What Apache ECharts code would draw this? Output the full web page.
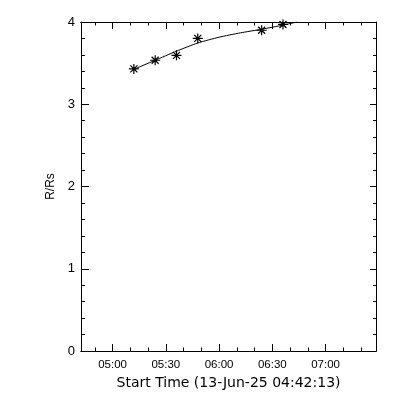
<!DOCTYPE html>
<html>
<head>
<meta charset="utf-8">
<script src="https://cdn.jsdelivr.net/npm/echarts@6/dist/echarts.min.js"></script>
<style>html,body{margin:0;padding:0;background:#fff;}#c{width:400px;height:400px;}</style>
</head>
<body>
<div id="c"></div>
<script>
// Measured points (time, R/Rs)
var pointTimes = ["05:12", "05:24", "05:36", "05:48", "06:24", "06:36"];
var pointValues = [3.43, 3.535, 3.595, 3.80, 3.90, 3.97];
// Fitted curve
var fitTimes = ["05:12", "05:24", "05:36", "05:48", "06:00", "06:12", "06:24", "06:36", "06:44"];
var fitValues = [3.425, 3.535, 3.645, 3.745, 3.815, 3.868, 3.912, 3.962, 4.0];
var xMajorLabels = ["05:00", "05:30", "06:00", "06:30", "07:00"];
var xMinorTicks = ["04:50","05:00","05:10","05:20","05:30","05:40","05:50","06:00","06:10","06:20","06:30","06:40","06:50","07:00","07:10","07:20"];
var xStart = "04:42:13";
var xEnd = "07:28:25";
var yTicks = [0, 1, 2, 3, 4];

function toMin(s) {
  var p = s.split(":").map(Number);
  return p[0] * 60 + p[1] + (p[2] || 0) / 60;
}
function fmt(m) {
  var h = Math.floor(m / 60 + 1e-9), mm = Math.round(m - h * 60);
  return (h < 10 ? "0" : "") + h + ":" + (mm < 10 ? "0" : "") + mm;
}
var xmin = toMin(xStart), xmax = toMin(xEnd);
var majors = xMajorLabels.map(toMin);
var minors = xMinorTicks.map(toMin);

var pts = pointTimes.map(function (t, i) { return [toMin(t), pointValues[i]]; });
var fit = fitTimes.map(function (t, i) { return [toMin(t), fitValues[i]]; });

var black = "#000";
function xAx(pos, major, labels) {
  return {
    type: "value", position: pos, min: xmin, max: xmax,
    axisLine: { show: true, onZero: false, lineStyle: { color: black, width: 1 } },
    axisTick: { show: true, inside: true, length: major ? 7 : 3.5, lineStyle: { color: black }, customValues: major ? majors : minors },
    axisLabel: labels ? { show: true, customValues: majors, formatter: fmt, color: black, fontFamily: "Liberation Sans", fontSize: 11.5, margin: 8 } : { show: false },
    splitLine: { show: false },
    name: labels ? "Start Time (13-Jun-25 04:42:13)" : "",
    nameLocation: "middle", nameGap: 22,
    nameTextStyle: { color: black, fontFamily: "DejaVu Sans", fontSize: 14 }
  };
}
function yAx(pos, labels, len) {
  return {
    type: "value", position: pos, min: 0, max: 4, interval: 1,
    axisLine: { show: true, onZero: false, lineStyle: { color: black, width: 1 } },
    axisTick: { show: true, inside: true, length: len, lineStyle: { color: black } },
    minorTick: { show: true, splitNumber: 5, length: len / 2, lineStyle: { color: black } },
    axisLabel: labels ? { show: true, color: black, fontFamily: "Liberation Sans", fontSize: 13, margin: 6 } : { show: false },
    splitLine: { show: false },
    name: labels ? "R/Rs" : "",
    nameLocation: "middle", nameGap: 20, nameRotate: 90,
    nameTextStyle: { color: black, fontFamily: "Liberation Sans", fontSize: 12 }
  };
}

var chart = echarts.init(document.getElementById("c"), null, { renderer: "canvas" });
chart.setOption({
  animation: false,
  backgroundColor: "#fff",
  grid: { left: 81, right: 24, top: 22, bottom: 49, containLabel: false },
  xAxis: [xAx("bottom", true, true), xAx("bottom", false, false), xAx("top", true, false), xAx("top", false, false)],
  yAxis: [yAx("left", true, 8), yAx("right", false, 6)],
  series: [
    {
      type: "line", data: fit, xAxisIndex: 0, yAxisIndex: 0,
      showSymbol: false, symbol: "none", smooth: 0.2, clip: true,
      lineStyle: { color: black, width: 1 }
    },
    {
      type: "scatter", data: pts, xAxisIndex: 0, yAxisIndex: 0,
      symbol: "path://M5,0L5,10M0,5L10,5M1.5,1.5L8.5,8.5M1.5,8.5L8.5,1.5",
      symbolSize: 10,
      itemStyle: { color: "none", borderColor: black, borderWidth: 1.2, opacity: 1 }
    }
  ]
});
</script>
</body>
</html>
